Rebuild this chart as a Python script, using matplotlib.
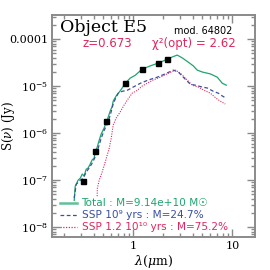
import numpy as np
import matplotlib.pyplot as plt
from matplotlib.ticker import LogLocator, FixedLocator, FuncFormatter, NullFormatter

# 데이터 (파장 um, log10 S(nu) Jy)
lam_tot = [0.254, 0.26, 0.278, 0.292, 0.306, 0.320, 0.335, 0.351, 0.368, 0.385, 0.404,
           0.413, 0.433, 0.454, 0.475, 0.509, 0.534, 0.559, 0.586, 0.614, 0.628, 0.673,
           0.722, 0.774, 0.830, 0.933, 1.047, 1.23, 1.485, 1.79, 2.20, 2.48, 2.78, 3.13,
           3.59, 4.04, 4.43, 4.98, 6.0, 7.05, 7.93, 8.70]
log_tot = [-7.43, -7.13, -7.00, -6.96, -6.87, -6.91, -6.77, -6.74, -6.66, -6.57, -6.53,
           -6.40, -6.30, -6.15, -6.02, -5.89, -5.77, -5.66, -5.53, -5.43, -5.32, -5.21,
           -5.13, -5.04, -4.94, -4.83, -4.77, -4.64, -4.57, -4.51, -4.43, -4.38, -4.34, -4.40,
           -4.49, -4.57, -4.66, -4.70, -4.74, -4.81, -4.94, -4.98]

lam_young = [0.254, 0.266, 0.292, 0.313, 0.335, 0.36, 0.385, 0.413, 0.443, 0.475, 0.509,
             0.546, 0.586, 0.628, 0.673, 0.706, 0.774, 0.870, 1.0, 1.18, 1.42, 1.75, 2.10,
             2.54, 2.85, 3.27, 3.77, 4.23, 4.98, 5.59, 6.43, 7.22, 7.93, 8.70]
log_young = [-7.38, -7.09, -7.00, -6.96, -6.83, -6.74, -6.64, -6.51, -6.32, -6.11, -5.94,
             -5.81, -5.62, -5.38, -5.23, -5.15, -5.11, -5.09, -5.02, -4.94, -4.87, -4.81, -4.74,
             -4.66, -4.70, -4.83, -4.96, -4.98, -5.02, -5.04, -5.11, -5.15, -5.21, -5.26]

lam_old = [0.433, 0.435, 0.454, 0.486, 0.521, 0.546, 0.573, 0.600, 0.628, 0.673, 0.739,
           0.811, 0.870, 0.977, 1.10, 1.23, 1.38, 1.59, 1.87, 2.20, 2.66, 2.98, 3.43, 3.94,
           4.54, 5.21, 6.0, 6.89, 7.56, 8.49]
log_old = [-7.34, -7.17, -7.00, -6.83, -6.62, -6.47, -6.32, -6.11, -5.83, -5.68, -5.55,
           -5.40, -5.30, -5.15, -5.09, -5.00, -4.94, -4.87, -4.81, -4.74, -4.66, -4.72, -4.85, -4.98,
           -5.02, -5.09, -5.15, -5.26, -5.32, -5.38]

lam_obs = [0.313, 0.413, 0.534, 0.83, 1.23, 1.79, 2.2]
log_obs = [-7.02, -6.38, -5.74, -4.94, -4.64, -4.51, -4.43]

green = '#1fa56e'
blue = '#3a4f9e'
pink = '#e0285f'
frame = '#8a8a8a'
serif = ['DejaVu Serif']
plt.rcParams['mathtext.fontset'] = 'dejavuserif'

fig = plt.figure(figsize=(2.7, 2.7), dpi=100)
ax = fig.add_axes([0.193, 0.122, 0.752, 0.822])

ax.plot(lam_tot, 10 ** np.array(log_tot), color=green, lw=0.9)
ax.plot(lam_young, 10 ** np.array(log_young), color=blue, lw=0.9, ls=(0, (3, 2)))
ax.plot(lam_old, 10 ** np.array(log_old), color=pink, lw=0.8, ls=(0, (1, 1.2)))
ax.plot(lam_obs, 10 ** np.array(log_obs), 's', color='black', ms=3.6)

ax.set_xscale('log')
ax.set_yscale('log')
ax.set_xlim(0.152, 17.0)
ax.set_ylim(10 ** -8.21, 10 ** -3.49)

for s in ax.spines.values():
    s.set_color(frame)
    s.set_linewidth(1.4)

ax.xaxis.set_major_locator(FixedLocator([1, 10]))
ax.xaxis.set_minor_locator(LogLocator(base=10, subs=np.arange(2, 10)))
ax.xaxis.set_major_formatter(FuncFormatter(lambda v, p: '%d' % v))
ax.xaxis.set_minor_formatter(NullFormatter())

ylab = {1e-4: '0.0001', 1e-5: r'$10^{-5}$', 1e-6: r'$10^{-6}$', 1e-7: r'$10^{-7}$', 1e-8: r'$10^{-8}$'}
ax.yaxis.set_major_locator(FixedLocator(list(ylab.keys())))
ax.yaxis.set_minor_locator(LogLocator(base=10, subs=np.arange(2, 10)))
ax.yaxis.set_major_formatter(FuncFormatter(lambda v, p: ylab.get(v, '')))
ax.yaxis.set_minor_formatter(NullFormatter())

ax.tick_params(which='both', direction='in', top=True, right=True, color=frame, width=1.0)
ax.tick_params(which='major', length=6, labelsize=8, pad=3)
ax.tick_params(which='minor', length=3)
for lab in ax.get_xticklabels() + ax.get_yticklabels():
    lab.set_family(serif)

ax.set_xlabel(r'$\lambda(\mu$m)', family=serif, fontsize=9, labelpad=1)
ax.set_ylabel(r'S($\nu$) (Jy)', family=serif, fontsize=8.5)
ax.yaxis.set_label_coords(-0.175, 0.5)

ax.text(0.04, 0.945, 'Object E5', transform=ax.transAxes, family=serif, fontsize=12.5,
        va='center', ha='left')
ax.text(0.60, 0.93, 'mod. 64802', transform=ax.transAxes, fontsize=7, va='center', ha='left')
ax.text(0.15, 0.872, 'z=0.673', transform=ax.transAxes, fontsize=8.5, color=pink, va='center')
ax.text(0.49, 0.872, 'χ²(opt) = 2.62', transform=ax.transAxes, fontsize=8.5,
        color=pink, va='center')

leg_y = [0.155, 0.10, 0.045]
leg_txt = ['Total : M=9.14e+10 M☉', 'SSP 10⁹ yrs : M=24.7%',
           'SSP 1.2 10¹⁰ yrs : M=75.2%']
leg_col = [green, blue, pink]
leg_ls = ['-', (0, (3, 2)), (0, (1, 1.2))]
for yy, tt, cc, ls in zip(leg_y, leg_txt, leg_col, leg_ls):
    ax.plot([0.04, 0.125], [yy, yy], transform=ax.transAxes, color=cc, ls=ls,
            lw=1.8 if cc == green else 0.9, alpha=0.7 if cc == green else 1)
    ax.text(0.145, yy, tt, transform=ax.transAxes, fontsize=7.6, color=cc, va='center')

fig.savefig('out.png', dpi=100)
